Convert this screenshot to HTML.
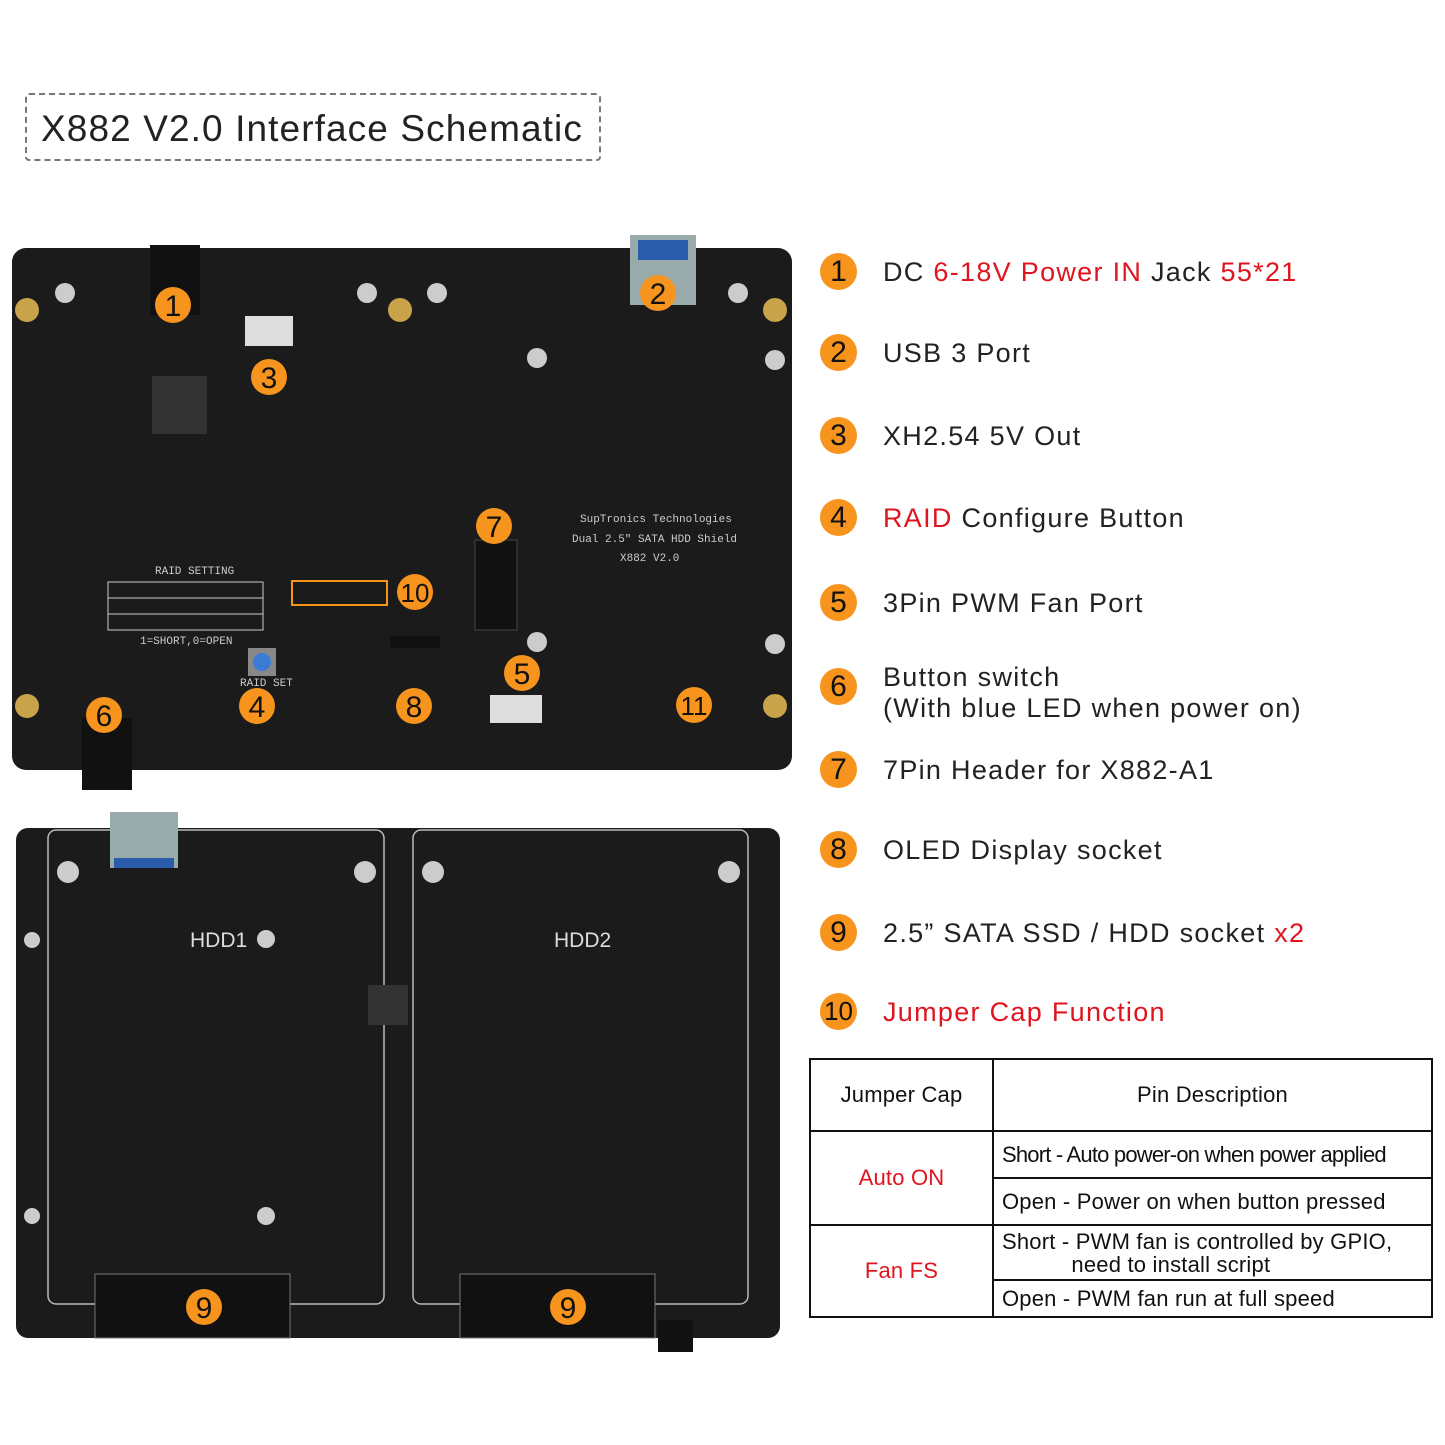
<!DOCTYPE html>
<html><head><meta charset="utf-8"><style>
body{margin:0;width:1445px;height:1445px;background:#fff;position:relative;overflow:hidden;font-family:"Liberation Sans",sans-serif}
.t{position:absolute;left:25px;top:93px;width:576px;height:68px;border:2px dashed #777;border-radius:4px;font-size:37px;line-height:68px;padding-left:14px;box-sizing:border-box;color:#222;letter-spacing:1.1px}
.li{position:absolute;left:820px;font-size:27px;color:#222}
.li b{position:absolute;left:0;top:-4px;width:37px;height:37px;border-radius:50%;background:#f7941d;color:#111;font-weight:normal;font-size:30px;text-align:center;line-height:37px}
.li span{position:absolute;left:63px;white-space:nowrap;letter-spacing:1.3px}
.r{color:#e0141e}
table{position:absolute;left:809px;top:1058px;width:624px;height:259px;border-collapse:collapse;font-size:22px;color:#111}
td{border:2px solid #111;padding:0 8px;letter-spacing:0.2px;white-space:nowrap}
</style></head><body>
<div class="t">X882 V2.0 Interface Schematic</div>
<svg width="800" height="1445" style="position:absolute;left:0;top:0">
<rect x="12" y="248" width="780" height="522" rx="14" fill="#1b1b1b"/>
<rect x="150" y="245" width="50" height="70" fill="#111"/>
<rect x="630" y="235" width="66" height="70" fill="#9aa" /><rect x="638" y="240" width="50" height="20" fill="#2a5cab"/>
<rect x="245" y="316" width="48" height="30" fill="#ddd"/>
<rect x="152" y="376" width="55" height="58" fill="#333"/>
<rect x="475" y="540" width="42" height="90" fill="#111" stroke="#444"/>
<rect x="490" y="695" width="52" height="28" fill="#ddd"/>
<rect x="390" y="636" width="50" height="12" fill="#111"/>
<rect x="248" y="648" width="28" height="28" fill="#888"/><circle cx="262" cy="662" r="9" fill="#3a7bd5"/>
<rect x="292" y="581" width="95" height="24" fill="none" stroke="#f7941d" stroke-width="2"/>
<g fill="#ccc" font-family="Liberation Mono" font-size="11">
<text x="580" y="522">SupTronics Technologies</text><text x="572" y="542">Dual 2.5" SATA HDD Shield</text><text x="620" y="561">X882 V2.0</text>
<text x="155" y="574">RAID SETTING</text><text x="140" y="644">1=SHORT,0=OPEN</text><text x="240" y="686">RAID SET</text>
</g>
<g stroke="#ccc" fill="none"><rect x="108" y="582" width="155" height="48"/><line x1="108" y1="598" x2="263" y2="598"/><line x1="108" y1="614" x2="263" y2="614"/></g>
<g fill="#c8a34a"><circle cx="27" cy="310" r="12"/><circle cx="775" cy="310" r="12"/><circle cx="27" cy="706" r="12"/><circle cx="775" cy="706" r="12"/><circle cx="400" cy="310" r="12"/><circle cx="32" cy="887" r="12"/><circle cx="764" cy="887" r="12"/><circle cx="32" cy="1277" r="12"/><circle cx="764" cy="1277" r="12"/><circle cx="398" cy="887" r="12"/><circle cx="398" cy="1277" r="12"/></g>
<g fill="#ccc"><circle cx="65" cy="293" r="10"/><circle cx="367" cy="293" r="10"/><circle cx="437" cy="293" r="10"/><circle cx="738" cy="293" r="10"/><circle cx="537" cy="358" r="10"/><circle cx="775" cy="360" r="10"/><circle cx="537" cy="642" r="10"/><circle cx="775" cy="644" r="10"/></g>
<rect x="82" y="718" width="50" height="72" fill="#111"/>
<rect x="16" y="828" width="764" height="510" rx="12" fill="#1b1b1b"/>
<rect x="48" y="830" width="336" height="474" rx="8" fill="none" stroke="#bbb" stroke-width="1.5"/>
<rect x="413" y="830" width="335" height="474" rx="8" fill="none" stroke="#bbb" stroke-width="1.5"/>
<rect x="110" y="812" width="68" height="56" fill="#9aa"/><rect x="114" y="858" width="60" height="10" fill="#2a5cab"/>
<rect x="95" y="1274" width="195" height="64" fill="#111" stroke="#777"/><rect x="460" y="1274" width="195" height="64" fill="#111" stroke="#777"/>
<rect x="658" y="1320" width="35" height="32" fill="#111"/>
<g fill="#ccc"><circle cx="68" cy="872" r="11"/><circle cx="365" cy="872" r="11"/><circle cx="433" cy="872" r="11"/><circle cx="729" cy="872" r="11"/><circle cx="266" cy="939" r="9"/><circle cx="266" cy="1216" r="9"/><circle cx="32" cy="940" r="8"/><circle cx="32" cy="1216" r="8"/></g>
<rect x="368" y="985" width="40" height="40" fill="#333"/>
<g fill="#ddd" font-size="21" font-family="Liberation Sans"><text x="190" y="947">HDD1</text><text x="554" y="947">HDD2</text></g>
<g font-family="Liberation Sans" font-size="30" text-anchor="middle" fill="#111">
<g fill="#f7941d"><circle cx="173" cy="305" r="18"/><circle cx="658" cy="293" r="18"/><circle cx="269" cy="377" r="18"/><circle cx="257" cy="706" r="18"/><circle cx="522" cy="673" r="18"/><circle cx="104" cy="715" r="18"/><circle cx="494" cy="526" r="18"/><circle cx="414" cy="706" r="18"/><circle cx="204" cy="1307" r="18"/><circle cx="568" cy="1307" r="18"/><circle cx="415" cy="592" r="18"/><circle cx="694" cy="705" r="18"/></g>
<text x="173" y="316">1</text><text x="658" y="304">2</text><text x="269" y="388">3</text><text x="257" y="717">4</text><text x="522" y="684">5</text><text x="104" y="726">6</text><text x="494" y="537">7</text><text x="414" y="717">8</text><text x="204" y="1318">9</text><text x="568" y="1318">9</text><text x="415" y="602" font-size="26">10</text><text x="694" y="715" font-size="26">11</text>
</g>
</svg>
<div class="li" style="top:257px"><b>1</b><span>DC <i class="r" style="font-style:normal">6-18V Power IN</i> Jack <i class="r" style="font-style:normal">55*21</i></span></div>
<div class="li" style="top:338px"><b>2</b><span>USB 3 Port</span></div>
<div class="li" style="top:421px"><b>3</b><span>XH2.54 5V Out</span></div>
<div class="li" style="top:503px"><b>4</b><span><i class="r" style="font-style:normal">RAID</i> Configure Button</span></div>
<div class="li" style="top:588px"><b>5</b><span>3Pin PWM Fan Port</span></div>
<div class="li" style="top:672px"><b>6</b><span style="top:-10px;line-height:31px">Button switch<br>(With blue LED when power on)</span></div>
<div class="li" style="top:755px"><b>7</b><span>7Pin Header for X882-A1</span></div>
<div class="li" style="top:835px"><b>8</b><span>OLED Display socket</span></div>
<div class="li" style="top:918px"><b>9</b><span>2.5” SATA SSD / HDD socket <i class="r" style="font-style:normal">x2</i></span></div>
<div class="li" style="top:997px"><b style="font-size:26px">10</b><span class="r">Jumper Cap Function</span></div>
<table>
<tr style="height:72px"><td style="width:165px;text-align:center">Jumper Cap</td><td style="text-align:center">Pin Description</td></tr>
<tr style="height:47px"><td rowspan="2" class="r" style="text-align:center">Auto ON</td><td style="letter-spacing:-0.8px">Short - Auto power-on when power applied</td></tr>
<tr style="height:47px"><td>Open - Power on when button pressed</td></tr>
<tr style="height:55px"><td rowspan="2" class="r" style="text-align:center">Fan FS</td><td style="line-height:23px">Short - PWM fan is controlled by GPIO,<br>&nbsp;&nbsp;&nbsp;&nbsp;&nbsp;&nbsp;&nbsp;&nbsp;&nbsp;&nbsp;&nbsp;need to install script</td></tr>
<tr style="height:37px"><td>Open - PWM fan run at full speed</td></tr>
</table>
</body></html>
